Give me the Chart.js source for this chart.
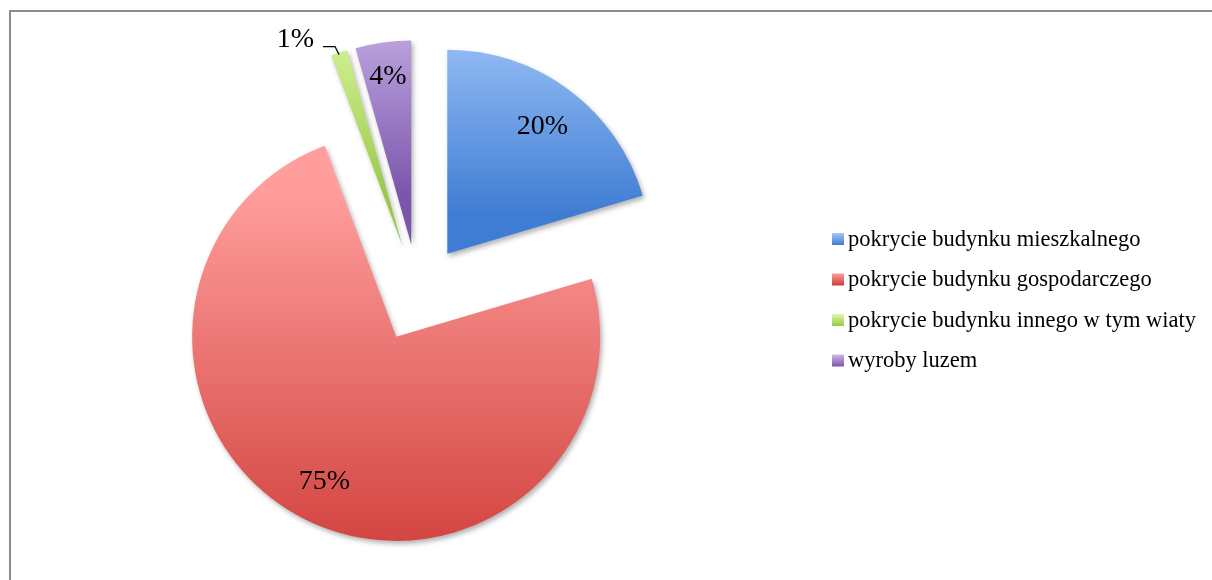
<!DOCTYPE html>
<html>
<head>
<meta charset="utf-8">
<script src="https://cdn.jsdelivr.net/npm/chart.js@4/dist/chart.umd.min.js"></script>
<style>
  html, body { margin: 0; padding: 0; background: #fff; }
  canvas { display: block; }
</style>
</head>
<body>
<canvas id="pieChart" width="1212" height="580"></canvas>
<script>
const categories = [
    'pokrycie budynku mieszkalnego',
    'pokrycie budynku gospodarczego',
    'pokrycie budynku innego w tym wiaty',
    'wyroby luzem'
];
// slice sizes as measured from the wedge angles
const shares = [20.4, 73.9, 1.3, 4.4];
// rounded percentages as printed on the chart
const valueLabels = ['20%', '75%', '1%', '4%'];

const topColors = ['#A2C7FB', '#FF9E9C', '#DEFAA6', '#CDB8EC'];
const bottomColors = ['#3F7CD3', '#CE3A36', '#98C846', '#7A55AB'];
// label distance from the slice tip, as part of the radius
const labelDist = [0.78, 0.79, 1, 0.83];

const RADIUS = 204;
const SHIFT = 49;   // how far every slice is pulled out of the pie
const FONT = "'Liberation Serif', 'Times New Roman', serif";

const total = shares.reduce((a, b) => a + b, 0);

function sliceFill(c) {
    const chart = c.chart;
    const area = chart.chartArea;
    const i = c.dataIndex;
    if (!area || i === undefined) return bottomColors[i] || '#888';
    let a0 = -Math.PI / 2;
    for (let k = 0; k < i; k++) a0 += shares[k] / total * Math.PI * 2;
    const a1 = a0 + shares[i] / total * Math.PI * 2;
    const mid = (a0 + a1) / 2;
    const cy = (area.top + area.bottom) / 2 + Math.sin(mid) * SHIFT;
    let ymin = cy, ymax = cy;
    for (let t = 0; t <= 60; t++) {
        const y = cy + Math.sin(a0 + (a1 - a0) * t / 60) * RADIUS;
        ymin = Math.min(ymin, y);
        ymax = Math.max(ymax, y);
    }
    const g = chart.ctx.createLinearGradient(0, ymin, 0, ymax);
    g.addColorStop(0, topColors[i]);
    g.addColorStop(1, bottomColors[i]);
    return g;
}

const framePlugin = {
    id: 'frame',
    beforeDraw(chart) {
        const ctx = chart.ctx;
        ctx.save();
        ctx.strokeStyle = '#8c8c8c';
        ctx.lineWidth = 2;
        ctx.beginPath();
        ctx.moveTo(10, chart.height);
        ctx.lineTo(10, 11);
        ctx.lineTo(chart.width, 11);
        ctx.stroke();
        ctx.restore();
    }
};

// draw each arc pulled out along its middle angle, with a soft shadow
const explodePlugin = {
    id: 'explode',
    beforeDatasetDraw(chart, args) {
        const ctx = chart.ctx;
        ctx.save();
        ctx.shadowColor = 'rgba(0,0,0,0.3)';
        ctx.shadowBlur = 5;
        ctx.shadowOffsetX = 2;
        ctx.shadowOffsetY = 3;
        args.meta.data.forEach(arc => {
            const mid = (arc.startAngle + arc.endAngle) / 2;
            ctx.save();
            ctx.translate(Math.cos(mid) * SHIFT, Math.sin(mid) * SHIFT);
            arc.draw(ctx, chart.chartArea);
            ctx.restore();
        });
        ctx.restore();
        return false;
    }
};

const labelPlugin = {
    id: 'sliceLabels',
    afterDatasetsDraw(chart) {
        const ctx = chart.ctx;
        const arcs = chart.getDatasetMeta(0).data;
        ctx.save();
        ctx.font = '28px ' + FONT;
        ctx.fillStyle = '#000';
        ctx.textBaseline = 'middle';
        arcs.forEach((arc, i) => {
            const mid = (arc.startAngle + arc.endAngle) / 2;
            const cx = arc.x + Math.cos(mid) * SHIFT;
            const cy = arc.y + Math.sin(mid) * SHIFT;
            const text = valueLabels[i];
            if (shares[i] >= 3) {
                const r = arc.outerRadius * labelDist[i];
                ctx.textAlign = 'center';
                ctx.fillText(text, cx + Math.cos(mid) * r, cy + Math.sin(mid) * r);
            } else {
                // small slice: label outside with a leader line
                const ex = cx + Math.cos(mid) * arc.outerRadius;
                const ey = cy + Math.sin(mid) * arc.outerRadius + 2;
                const kx = ex - 4, ky = ey - 8;
                ctx.strokeStyle = '#000';
                ctx.lineWidth = 1.2;
                ctx.beginPath();
                ctx.moveTo(ex, ey);
                ctx.lineTo(kx, ky);
                ctx.lineTo(kx - 12, ky);
                ctx.stroke();
                ctx.textAlign = 'right';
                ctx.fillText(text, kx - 21, ky - 7);
            }
        });
        ctx.restore();
    }
};

const legendPlugin = {
    id: 'sideLegend',
    afterDraw(chart) {
        const ctx = chart.ctx;
        const area = chart.chartArea;
        const x0 = area.right + 6;
        const y0 = (area.top + area.bottom) / 2 - 54;
        ctx.save();
        ctx.font = '22.5px ' + FONT;
        ctx.textBaseline = 'middle';
        ctx.textAlign = 'left';
        categories.forEach((name, i) => {
            const y = y0 + i * 40.5;
            const g = ctx.createLinearGradient(0, y - 6, 0, y + 6);
            g.addColorStop(0, topColors[i]);
            g.addColorStop(1, bottomColors[i]);
            ctx.fillStyle = g;
            ctx.fillRect(x0, y - 6, 12, 12);
            ctx.fillStyle = '#000';
            ctx.fillText(name, x0 + 16, y + 1);
        });
        ctx.restore();
    }
};

new Chart(document.getElementById('pieChart'), {
    type: 'pie',
    data: {
        labels: categories,
        datasets: [{
            data: shares,
            backgroundColor: sliceFill,
            borderWidth: 0,
            hoverOffset: 0,
            radius: RADIUS
        }]
    },
    options: {
        responsive: false,
        animation: false,
        events: [],
        layout: {
            padding: { left: 10, right: 386, top: 12, bottom: 6 }
        },
        plugins: {
            legend: { display: false },
            tooltip: { enabled: false }
        }
    },
    plugins: [framePlugin, explodePlugin, labelPlugin, legendPlugin]
});
</script>
</body>
</html>
